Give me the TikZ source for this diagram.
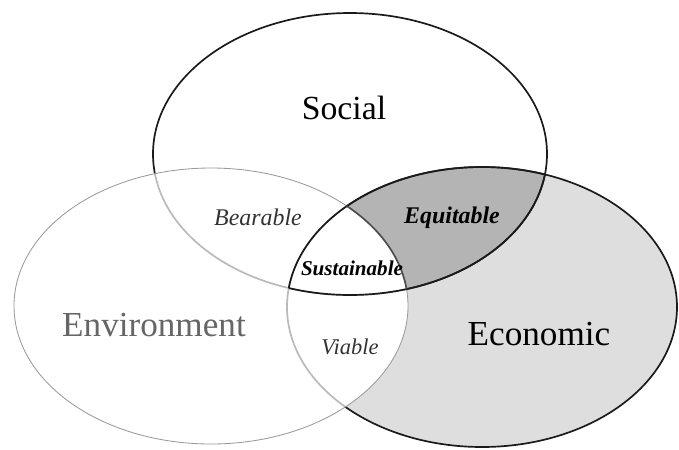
\documentclass[tikz,border=0pt]{standalone}
\usepackage{fontspec}
\setmainfont{Liberation Serif}
\usepackage{xcolor}
\definecolor{cInk}{HTML}{1A1A1A}
\definecolor{cMid}{HTML}{4D4D4D}
\definecolor{cSoft}{HTML}{9A9A9A}
\definecolor{cEcon}{HTML}{DEDEDE}
\definecolor{cEquit}{HTML}{B4B4B4}
\usepackage{tikz}
\usetikzlibrary{positioning}
\tikzset{
  set-line/.style={draw=cInk,line width=1.2pt},
  set-soft/.style={draw=cSoft,line width=0.6pt},
  set-fade/.style={fill=white,fill opacity=0.7},
  label-big/.style={font=\fontsize{24}{28}\selectfont,text=black},
  label-env/.style={font=\fontsize{25}{29}\selectfont,text=black!60},
  label-small/.style={font=\fontsize{17}{20}\selectfont\itshape,text=black!80},
  label-key/.style={font=\fontsize{17}{20}\selectfont\bfseries\itshape,text=black},
}
% the three sets, in pixel units of the picture
\newcommand{\socialset}{(350,154) ellipse [x radius=197,y radius=141]}
\newcommand{\envset}{(211,306) ellipse [x radius=197,y radius=138]}
\newcommand{\econset}{(482,307) ellipse [x radius=195,y radius=140]}

\begin{document}
\begin{tikzpicture}[x=0.025cm,y=-0.025cm]
  \useasboundingbox (0,0) rectangle (679,449);
  % fills
  \fill[cEcon] \econset;
  \begin{scope}
    \clip \socialset;
    \fill[cEquit] \econset;
  \end{scope}
  \fill[white] \envset;
  % outlines
  \draw[set-line] \socialset;
  \draw[set-line] \econset;
  \path[set-fade] \envset;
  \draw[set-soft] \envset;
  \begin{scope}
    \clip \econset;
    \draw[set-line] \socialset;
  \end{scope}
  \begin{scope}
    \clip \socialset;
    \draw[set-line] \econset;
  \end{scope}
  \begin{scope}
    \clip \socialset;
    \clip \econset;
    \draw[set-line,draw=cMid] \envset;
  \end{scope}
  % labels
  \node[label-big] (social) at (344,108) {Social};
  \node[label-env] (env) at (154,325) {Environment};
  \node[label-big,font=\fontsize{25}{29}\selectfont] (econ) at (539,334) {Economic};
  \node[label-small] (bearable) at (258,217) {Bearable};
  \node[label-key] (equitable) at (452,218) {Equitable};
  \node[label-key,font=\fontsize{15}{18}\selectfont\bfseries\itshape] (sustainable) at (352,268) {Sustainable};
  \node[label-small,font=\fontsize{16}{19}\selectfont\itshape] (viable) at (350,347) {Viable};
\end{tikzpicture}
\end{document}
